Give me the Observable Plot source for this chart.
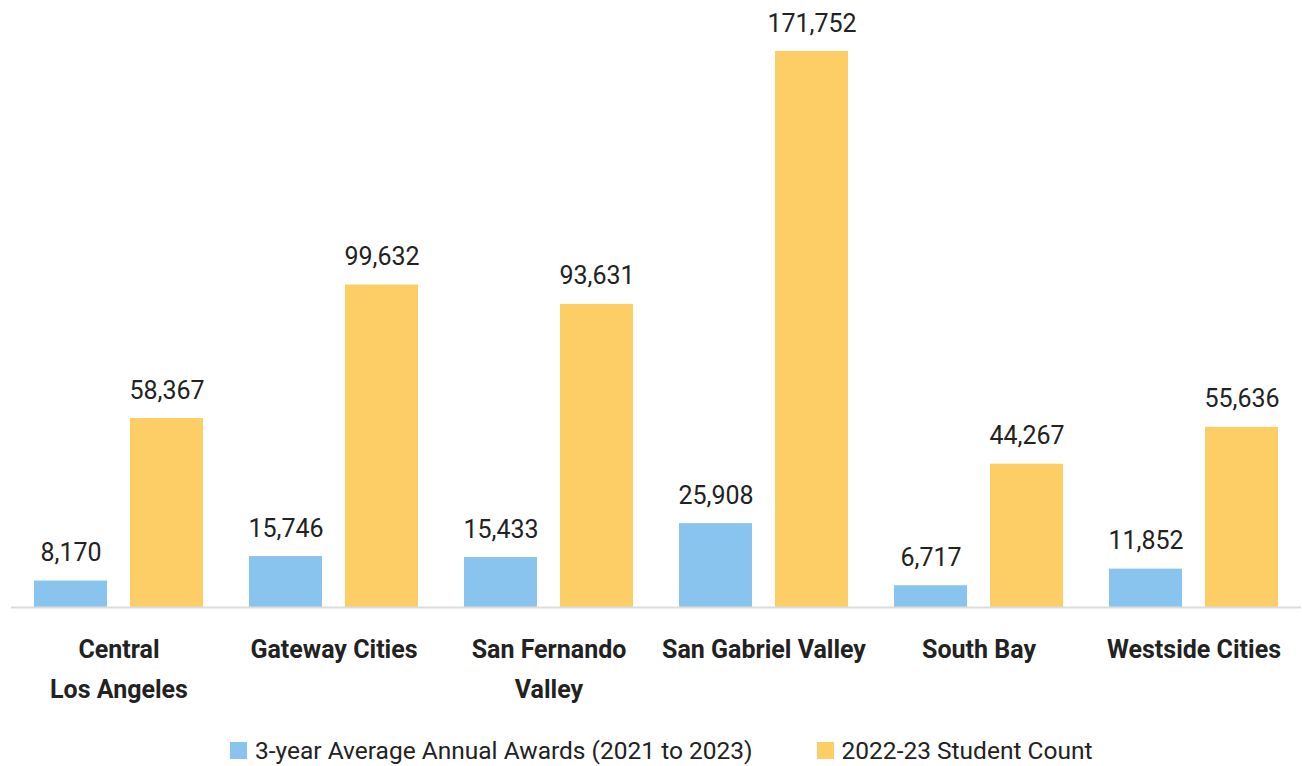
<!DOCTYPE html>
<html>
<head>
<meta charset="utf-8">
<script src="https://cdn.jsdelivr.net/npm/d3@7"></script>
<script src="https://cdn.jsdelivr.net/npm/@observablehq/plot@0.6"></script>
<style>
  body { margin: 0; background: #fff; font-family: Roboto, "Open Sans", sans-serif; }
  #legend { display: flex; align-items: center; height: 46px; margin-top: 7px; padding-left: 230px; font-size: 24.5px; color: #222; }
  .item { display: flex; align-items: center; }
  .sw { width: 17px; height: 17px; margin-right: 8px; }
</style>
</head>
<body>
<div id="chart"></div>
<div id="legend"></div>
<script>
const regions = ["Central\nLos Angeles", "Gateway Cities", "San Fernando\nValley", "San Gabriel Valley", "South Bay", "Westside Cities"];
const series = ["3-year Average Annual Awards (2021 to 2023)", "2022-23 Student Count"];
const awards = [8170, 15746, 15433, 25908, 6717, 11852];
const students = [58367, 99632, 93631, 171752, 44267, 55636];
const colors = ["#89C4EE", "#FDCD66"];

const data = [];
regions.forEach((r, i) => {
  data.push({region: r, series: series[0], value: awards[i]});
  data.push({region: r, series: series[1], value: students[i]});
});

const chart = Plot.plot({
  width: 1302,
  height: 720,
  marginLeft: 10,
  marginRight: 0,
  marginTop: 51,
  marginBottom: 113,
  style: {fontFamily: "Roboto, 'Open Sans', sans-serif", color: "#222", background: "#fff"},
  fx: {domain: regions, padding: 0, label: null},
  x: {domain: series, padding: 0.235, axis: null},
  y: {domain: [0, d3.max(students)], axis: null},
  color: {domain: series, range: colors},
  marks: [
    Plot.barY(data, {fx: "region", x: "series", y: "value", fill: "series"}),
    Plot.text(data, {fx: "region", x: "series", y: "value", text: d => d3.format(",")(d.value), dy: -20, lineAnchor: "bottom", fontSize: 25, fill: "#222"}),
    Plot.ruleY([0], {stroke: "#dcdcdc", strokeWidth: 2}),
    Plot.axisFx({anchor: "bottom", tickSize: 0, tickPadding: 22, fontSize: 25, fontWeight: "bold", lineHeight: 1.6, label: null, fill: "#222"})
  ]
});
document.getElementById("chart").appendChild(chart);

const legend = document.getElementById("legend");
series.forEach((s, i) => {
  const item = document.createElement("div");
  item.className = "item";
  if (i > 0) item.style.marginLeft = "64px";
  const sw = document.createElement("span");
  sw.className = "sw";
  sw.style.background = colors[i];
  const t = document.createElement("span");
  t.textContent = s;
  item.appendChild(sw);
  item.appendChild(t);
  legend.appendChild(item);
});
</script>
</body>
</html>
